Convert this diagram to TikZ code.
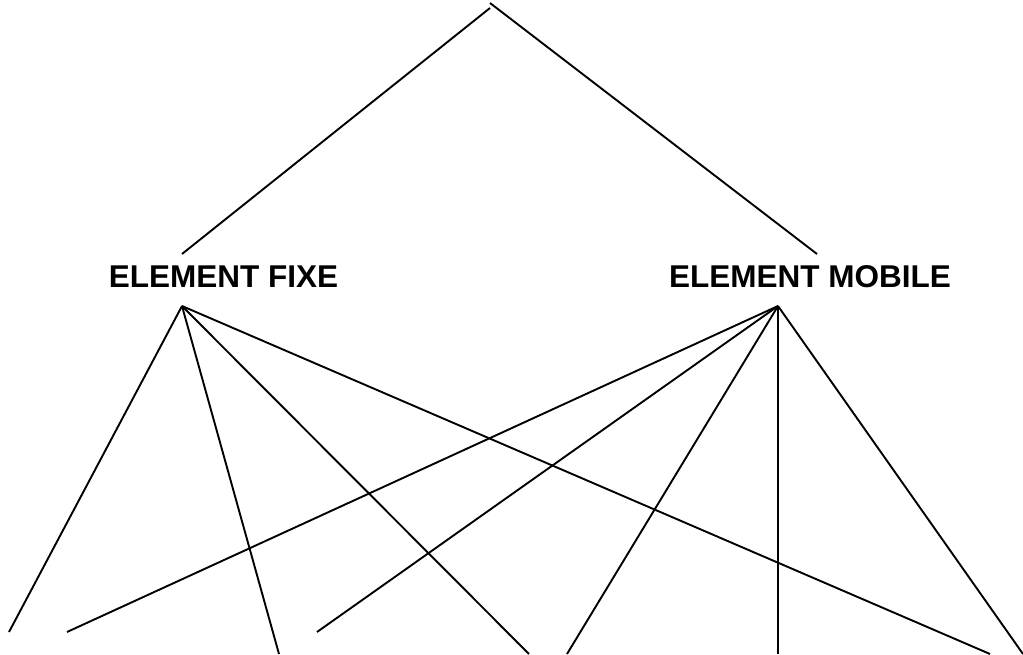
\documentclass[tikz,border=0pt]{standalone}
\usepackage{fontspec}
\setmainfont{Liberation Sans}
\begin{document}
\begin{tikzpicture}[x=1pt,y=-1pt,
  link/.style={line width=1.9pt,line cap=butt},
  label/.style={font=\fontsize{31.5}{38}\selectfont\bfseries,inner sep=0pt,anchor=base}]
\useasboundingbox (0,0) rectangle (1023,654);
% text
\node[label] (fixe) at (223.5,287.5) {ELEMENT FIXE};
\node[label] (mobile) at (810,287.5) {ELEMENT MOBILE};
% points
\coordinate (apexL) at (490,8);
\coordinate (apexR) at (490,3);
\coordinate (fixeTop) at (182,254);
\coordinate (mobileTop) at (817,254);
\coordinate (fixeHub) at (182,306);
\coordinate (mobileHub) at (778,306);
\coordinate (b1) at (9,632);
\coordinate (b2) at (67,632);
\coordinate (b3) at (279,654);
\coordinate (b4) at (317,632);
\coordinate (b5) at (529,654);
\coordinate (b6) at (567,654);
\coordinate (b7) at (778,654);
\coordinate (b8) at (990,654);
\coordinate (b9) at (1023,654);
% top lines
\draw[link] (apexL) -- (fixeTop);
\draw[link] (apexR) -- (mobileTop);
% from fixe
\draw[link] (fixeHub) -- (b1);
\draw[link] (fixeHub) -- (b3);
\draw[link] (fixeHub) -- (b5);
\draw[link] (fixeHub) -- (b8);
% from mobile
\draw[link] (mobileHub) -- (b2);
\draw[link] (mobileHub) -- (b4);
\draw[link] (mobileHub) -- (b6);
\draw[link] (mobileHub) -- (b7);
\draw[link] (mobileHub) -- (b9);
\end{tikzpicture}
\end{document}
